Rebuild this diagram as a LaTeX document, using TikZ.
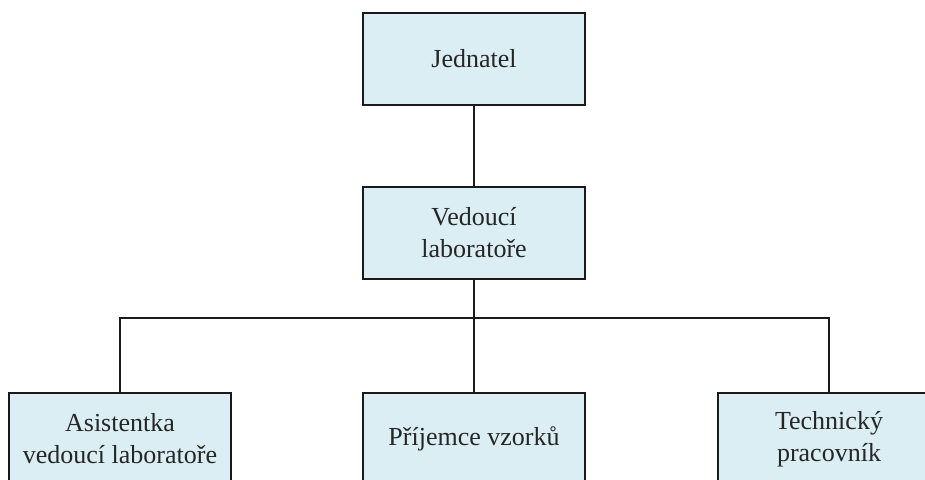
\documentclass[tikz,border=0pt]{standalone}
\usepackage{fontspec}
\setmainfont{Liberation Serif}
\definecolor{boxfill}{HTML}{DAEEF3}
\definecolor{boxline}{HTML}{1A1A1A}
\tikzset{
  orgbox/.style={draw=boxline, line width=2pt, fill=boxfill, rectangle,
    minimum width=222pt, minimum height=92pt, inner sep=0pt, align=center,
    font=\fontsize{26}{32}\selectfont, text=black!85},
  link/.style={draw=boxline, line width=2pt}
}
\begin{document}
\begin{tikzpicture}[x=1pt,y=-1pt]
\clip (0,0) rectangle (925,479);
\useasboundingbox (0,0) rectangle (925,479);
\node[orgbox] (j) at (474,58.5) {Jednatel};
\node[orgbox] (v) at (474,233) {Vedoucí\\laboratoře};
\node[orgbox] (l) at (120,439) {Asistentka\\vedoucí laboratoře};
\node[orgbox] (m) at (474,439) {Příjemce vzorků};
\node[orgbox] (r) at (829,439) {Technický\\pracovník};
\coordinate (bus) at (474,318);
\draw[link] (j) -- (v);
\draw[link] (v) -- (m);
\draw[link] (l.north) -- (l.north |- bus) -- (r.north |- bus) -- (r.north);
\end{tikzpicture}
\end{document}
